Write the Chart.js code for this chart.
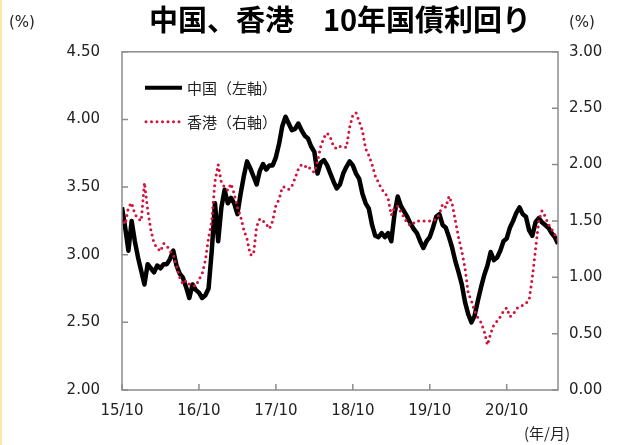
<!DOCTYPE html>
<html>
<head>
<meta charset="utf-8">
<script src="https://cdn.jsdelivr.net/npm/chart.js@4.4.1/dist/chart.umd.min.js"></script>
<style>
  html, body { margin:0; padding:0; background:#fff; }
  #wrap { position:relative; width:631px; height:445px; overflow:hidden; }
  #edge { position:absolute; left:0; top:0; width:2px; height:445px; background:#fbe7a4; }
  .note { position:absolute; font-family:"DejaVu Sans", sans-serif; font-size:15px; color:#222; white-space:nowrap; }
</style>
</head>
<body>
<div id="wrap">
  <canvas id="bondChart" width="631" height="445"></canvas>
  <div id="edge"></div>
  <div class="note" style="left:9px;top:13px">(%)</div>
  <div class="note" style="left:569px;top:13px">(%)</div>
  <div class="note" style="left:524px;top:422px;font-family:'Noto Sans CJK JP',sans-serif">(年/月)</div>
</div>
<script>
// semi-monthly readings, first point = 2015/10
const xTickLabels = ['15/10','16/10','17/10','18/10','19/10','20/10'];
const yLeftTicks  = [2.0, 2.5, 3.0, 3.5, 4.0, 4.5];
const yRightTicks = [0.0, 0.5, 1.0, 1.5, 2.0, 2.5, 3.0];

const chinaYield = [
  3.35,3.20,3.03,3.25,3.10,2.98,2.88,2.78,2.93,2.90,2.87,2.92,2.90,2.93,2.93,2.97,
  3.03,2.92,2.86,2.83,2.76,2.68,2.78,2.74,2.72,2.68,2.70,2.75,3.03,3.38,3.10,3.35,
  3.48,3.38,3.42,3.38,3.30,3.45,3.58,3.69,3.64,3.58,3.52,3.62,3.67,3.63,3.66,3.66,
  3.72,3.82,3.95,4.02,3.97,3.92,3.93,3.97,3.92,3.88,3.86,3.80,3.76,3.60,3.68,3.70,
  3.66,3.60,3.54,3.49,3.52,3.60,3.65,3.69,3.66,3.60,3.56,3.45,3.38,3.34,3.22,3.14,
  3.13,3.16,3.13,3.16,3.10,3.30,3.43,3.36,3.32,3.28,3.23,3.19,3.16,3.10,3.05,3.10,
  3.13,3.20,3.28,3.30,3.22,3.20,3.13,3.05,2.95,2.87,2.78,2.65,2.56,2.50,2.55,2.66,
  2.76,2.85,2.92,3.02,2.96,2.98,3.03,3.10,3.12,3.20,3.25,3.31,3.35,3.30,3.28,3.18,
  3.14,3.24,3.27,3.24,3.22,3.20,3.16,3.13,3.08
];
const hkYield = [
  1.53,1.47,1.62,1.66,1.56,1.52,1.50,1.84,1.60,1.42,1.30,1.26,1.23,1.30,1.28,1.23,
  1.20,1.10,1.00,0.94,0.97,0.94,0.93,0.92,0.98,1.03,1.15,1.35,1.50,1.85,2.00,1.84,
  1.80,1.77,1.83,1.74,1.62,1.54,1.42,1.34,1.20,1.20,1.45,1.52,1.50,1.47,1.43,1.50,
  1.64,1.69,1.80,1.80,1.78,1.81,1.88,1.96,2.00,1.98,1.99,1.95,1.93,2.03,2.16,2.24,
  2.28,2.24,2.16,2.14,2.16,2.16,2.15,2.33,2.44,2.46,2.38,2.30,2.14,2.08,2.00,1.90,
  1.84,1.78,1.75,1.70,1.55,1.62,1.63,1.58,1.53,1.48,1.46,1.48,1.50,1.50,1.50,1.50,
  1.50,1.50,1.52,1.56,1.65,1.62,1.72,1.65,1.50,1.35,1.23,1.08,0.86,0.79,0.70,0.64,
  0.60,0.52,0.40,0.50,0.58,0.61,0.65,0.70,0.73,0.65,0.67,0.72,0.74,0.75,0.77,0.80,
  1.00,1.25,1.50,1.59,1.54,1.47,1.43,1.38,1.33
];

const RED = '#d3113b';
const FRAME = '#8c8c8c';

// frame, inward tick marks and the in-plot legend
const framePlugin = {
  id: 'frame',
  afterDraw(chart) {
    const {ctx, chartArea:a, scales} = chart;
    ctx.save();
    ctx.strokeStyle = FRAME;
    ctx.lineWidth = 1.5;
    ctx.strokeRect(a.left, a.top, a.right - a.left, a.bottom - a.top);
    ctx.beginPath();
    scales.yL.ticks.forEach(t => {
      const y = scales.yL.getPixelForValue(t.value);
      ctx.moveTo(a.left, y); ctx.lineTo(a.left + 6, y);
    });
    scales.yR.ticks.forEach(t => {
      const y = scales.yR.getPixelForValue(t.value);
      ctx.moveTo(a.right, y); ctx.lineTo(a.right - 6, y);
    });
    scales.x.ticks.forEach(t => {
      const x = scales.x.getPixelForValue(t.value);
      ctx.moveTo(x, a.bottom); ctx.lineTo(x, a.bottom - 6);
    });
    ctx.stroke();

    // legend
    const lx = a.left + 23, ly1 = a.top + 36, ly2 = a.top + 70;
    ctx.lineCap = 'butt';
    ctx.strokeStyle = '#000'; ctx.lineWidth = 4;
    ctx.beginPath(); ctx.moveTo(lx, ly1); ctx.lineTo(lx + 37, ly1); ctx.stroke();
    ctx.strokeStyle = RED; ctx.lineWidth = 3; ctx.lineCap = 'round'; ctx.setLineDash([0, 5.5]);
    ctx.beginPath(); ctx.moveTo(lx + 1, ly2); ctx.lineTo(lx + 37, ly2); ctx.stroke();
    ctx.setLineDash([]);
    ctx.fillStyle = '#222';
    ctx.font = '15px "Noto Sans CJK JP"';
    ctx.textBaseline = 'middle';
    ctx.fillText(chart.data.datasets[0].label, lx + 42, ly1);
    ctx.fillText(chart.data.datasets[1].label, lx + 42, ly2);
    ctx.restore();
  }
};

new Chart(document.getElementById('bondChart'), {
  type: 'line',
  data: {
    datasets: [
      { label:'中国（左軸）', yAxisID:'yL', order:1,
        data: chinaYield.map((v,i) => ({x:i/2, y:v})),
        borderColor:'#000', borderWidth:4.5, pointRadius:0, borderJoinStyle:'round', tension:0 },
      { label:'香港（右軸）', yAxisID:'yR', order:0,
        data: hkYield.map((v,i) => ({x:i/2, y:v})),
        borderColor:RED, borderWidth:3, borderDash:[0,5.5], borderCapStyle:'round', pointRadius:0, tension:0 }
    ]
  },
  options: {
    responsive:false, animation:false,
    layout:{ padding:{ left:0, right:0, top:0, bottom:0 } },
    plugins:{
      legend:{ display:false }, tooltip:{ enabled:false },
      title:{ display:true, text:'中国、香港　10年国債利回り', fullSize:false, color:'#000',
        font:{ family:'"Noto Sans CJK JP"', size:29, weight:'bold', lineHeight:1.2 },
        padding:{ top:3, bottom:14 } }
    },
    scales:{
      x:{ type:'linear', min:0, max:68,
        afterBuildTicks:s => { s.ticks = xTickLabels.map((l,i) => ({value:i*12})); },
        afterFit:s => { s.height = 55; },
        grid:{ display:false, drawTicks:false }, border:{ display:false },
        ticks:{ padding:12, color:'#222', font:{ family:'"DejaVu Sans"', size:15 }, maxRotation:0,
          callback:v => xTickLabels[v/12] } },
      yL:{ position:'left', min:2, max:4.5,
        afterBuildTicks:s => { s.ticks = yLeftTicks.map(v => ({value:v})); },
        afterFit:s => { s.width = 122; },
        grid:{ display:false, drawTicks:false }, border:{ display:false },
        ticks:{ padding:22, color:'#222', font:{ family:'"DejaVu Sans"', size:15 }, callback:v => v.toFixed(2) } },
      yR:{ position:'right', min:0, max:3,
        afterBuildTicks:s => { s.ticks = yRightTicks.map(v => ({value:v})); },
        afterFit:s => { s.width = 73; },
        grid:{ display:false, drawTicks:false }, border:{ display:false },
        ticks:{ padding:11, color:'#222', font:{ family:'"DejaVu Sans"', size:15 }, callback:v => v.toFixed(2) } }
    }
  },
  plugins:[framePlugin]
});
</script>
</body>
</html>
